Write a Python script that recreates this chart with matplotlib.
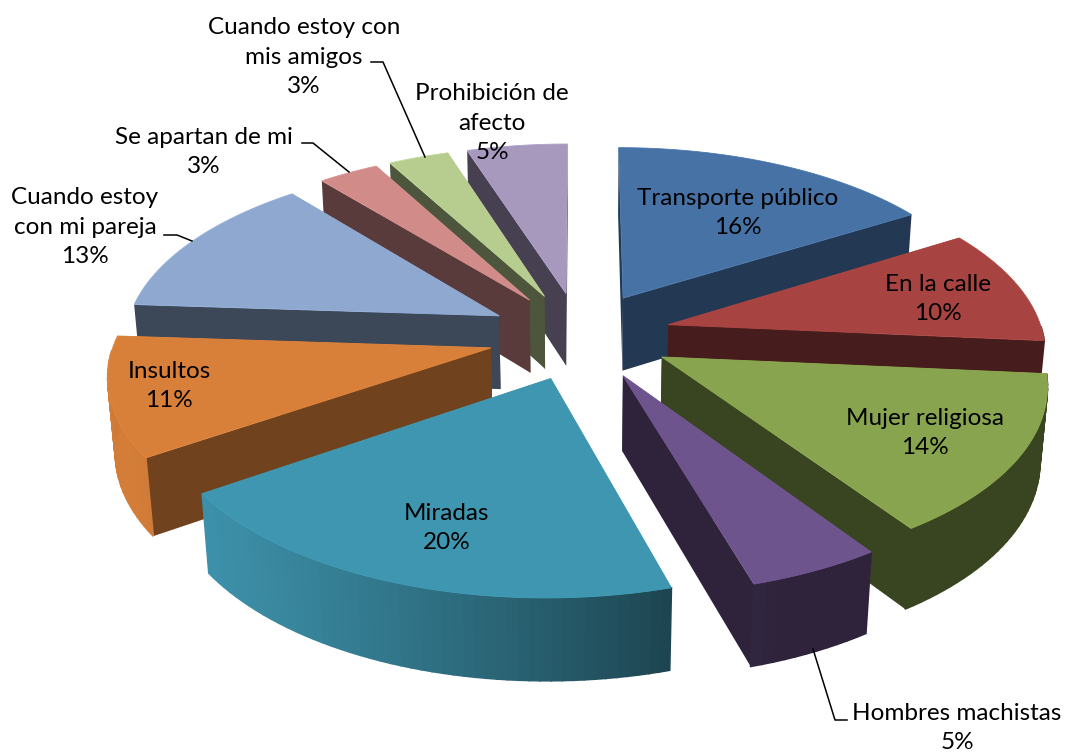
import numpy as np
import matplotlib
matplotlib.use("Agg")
import matplotlib.pyplot as plt
from matplotlib.colors import to_rgb
from matplotlib.patches import Polygon

labels = ["Transporte público", "En la calle", "Mujer religiosa", "Hombres machistas", "Miradas",
          "Insultos", "Cuando estoy\ncon mi pareja", "Se apartan de mi", "Cuando estoy con\nmis amigos",
          "Prohibición de\nafecto"]
values = [16, 10, 14, 5, 20, 11, 13, 3, 3, 5]
colors = ["#4672a5", "#a74442", "#88a44e", "#6e548d", "#3f96b0", "#d8803a", "#8ea8d0", "#d18c8a", "#b7cd90", "#a798be"]
side_light = [0.5, 0.42, 0.42, 0.42, 0.42, 0.52, 0.42, 0.42, 0.42, 0.42]
# where each label text sits, in pixels
label_xy = [(738, 213), (938, 299), (925, 433), (957, 728), (447, 528), (169, 386), (85, 227), (204, 152), (304, 57), (492, 123)]

W, H = 1070, 755
cx, cy = 580, 335.5      # picture of the pie centre
f, D, tilt = 2550, 6.8, np.radians(28.5)
height = 0.228
explode = 0.245


def project(x, y, z):
    # y points to the viewer, z up
    d = D - y * np.cos(tilt) - z * np.sin(tilt)
    return cx + f * x / d, cy + f * (y * np.sin(tilt) - z * np.cos(tilt)) / d


def warp(a):
    # the original picture is skewed a bit along its lower rim
    return (a + 0.035 * np.exp(-((a - np.radians(130)) / np.radians(70)) ** 2)
            + 0.03 * np.exp(-((a - np.radians(234)) / np.radians(25)) ** 2))


def shade(color, k):
    return tuple(min(1, c * k) for c in to_rgb(color))


def wall_light(a):
    # a in radians clockwise from the top, light comes from lower left
    return 0.42 + 0.56 * max(0, np.cos(a - np.radians(250)))


fig = plt.figure(figsize=(W / 100, H / 100), dpi=100)
ax = fig.add_axes([0, 0, 1, 1])
ax.set_xlim(0, W)
ax.set_ylim(H, 0)
ax.axis("off")

total = sum(values)
edges = np.cumsum([0] + values) / total * 2 * np.pi
slices = []
for i in range(len(values)):
    a0, a1 = edges[i], edges[i + 1]
    mid = (a0 + a1) / 2
    ox, oy = explode * np.sin(mid), -explode * np.cos(mid)
    slices.append((oy - 0.6 * np.cos(mid), i, a0, a1, ox, oy))

for depth, i, a0, a1, ox, oy in sorted(slices):
    col = colors[i]
    t = warp(np.linspace(a0, a1, max(8, int((a1 - a0) * 40))))
    rx, ry = ox + np.sin(t), oy - np.cos(t)

    walls = [(ry[0], rx[0], ry[0]), (ry[-1], rx[-1], ry[-1])]
    for _, wx, wy in sorted(walls):
        pts = [project(ox, oy, 0), project(wx, wy, 0), project(wx, wy, -height), project(ox, oy, -height)]
        ax.add_patch(Polygon(pts, closed=True, fc=shade(col, side_light[i]), ec="none", zorder=depth + 2))

    for j in range(len(t) - 1):
        tm = (t[j] + t[j + 1]) / 2
        if np.cos(tm) > 0:
            continue
        pts = [project(rx[j], ry[j], 0), project(rx[j + 1], ry[j + 1], 0),
               project(rx[j + 1], ry[j + 1], -height), project(rx[j], ry[j], -height)]
        c = shade(col, wall_light(tm))
        ax.add_patch(Polygon(pts, closed=True, fc=c, ec=c, lw=1.2, zorder=depth + 2.1))

    top = [project(ox, oy, 0)] + [project(x, y, 0) for x, y in zip(rx, ry)]
    ax.add_patch(Polygon(top, closed=True, fc=col, ec=shade(col, 1.05), lw=0.6, zorder=depth + 2.2))

# leader lines
leaders = [[(813, 649), (835, 720), (847, 720)], [(164, 235), (177, 235), (192, 241)],
           [(302, 143), (313, 143), (349, 172)], [(371, 62), (383, 62), (425, 157)]]
for line in leaders:
    ax.plot(*zip(*line), color="black", lw=1.1, zorder=20)

for name, v, (x, y) in zip(labels, values, label_xy):
    ax.text(x, y, f"{name}\n{v}%", ha="center", va="center", family="Lato", fontsize=17.5,
            color="black", linespacing=1.5, zorder=30)

fig.savefig("out.png", dpi=100)
